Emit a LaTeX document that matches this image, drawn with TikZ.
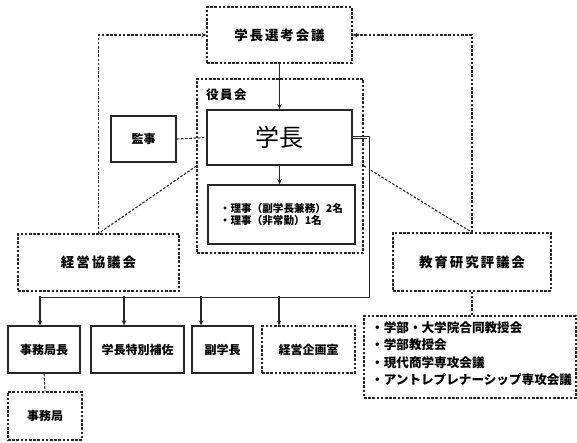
\documentclass[tikz,border=0pt]{standalone}
\usepackage{fontspec}
\setmainfont{Noto Sans CJK JP}
\usetikzlibrary{arrows.meta,calc}
\begin{document}
\begin{tikzpicture}[x=1pt,y=-1pt,
  ln/.style={line width=1.1pt, draw=black!85},
  dsh/.style={ln, dash pattern=on 2.6pt off 1.6pt},
  arr/.style={-{Stealth[length=5pt,width=4.5pt]}},
  sbox/.style n args={2}{draw=black!85, line width=1.4pt, minimum width=#1, minimum height=#2, inner sep=0pt},
  dbox/.style n args={2}{draw=black!85, line width=1.2pt, dash pattern=on 2.6pt off 1.6pt, minimum width=#1, minimum height=#2, inner sep=0pt},
  big/.style={font=\fontsize{13.5}{16}\selectfont\bfseries\addfontfeature{LetterSpace=14}},
  mid/.style={font=\fontsize{12}{15}\selectfont\bfseries},
  lst/.style={font=\fontsize{12.6}{17.5}\selectfont\bfseries, align=left},
]
\useasboundingbox (0,0) rectangle (577,442);
% nodes
\node[dbox={145pt}{56pt}, big] (sel) at (279.5,35) {学長選考会議};
\node[dbox={166pt}{174pt}] (yaku) at (280,166) {};
\node[anchor=west, font=\fontsize{12.5}{15}\selectfont\bfseries\addfontfeature{LetterSpace=12}, inner sep=0pt] (yakulabel) at (206,95) {役員会};
\node[sbox={145pt}{55pt}, font=\fontsize{24}{28}\selectfont, line width=1.7pt] (gaku) at (279.5,137.5) {学長};
\node[sbox={65pt}{46pt}, mid] (kanji) at (143.5,139) {監事};
\node[sbox={147pt}{59pt}, font=\fontsize{10.6}{12.5}\selectfont\bfseries, align=left] (riji) at (281.5,214.5) {・理事（副学長兼務）2名\\・理事（非常勤）1名};
\node[dbox={161pt}{57pt}, big] (keiei) at (98.5,262.5) {経営協議会};
\node[dbox={158pt}{58pt}, big] (kyoiku) at (472,262) {教育研究評議会};
\node[sbox={72pt}{47pt}, mid] (jcho) at (44,349.5) {事務局長};
\node[sbox={93pt}{47pt}, mid] (toku) at (137.5,349.5) {学長特別補佐};
\node[sbox={61pt}{47pt}, mid] (fuku) at (222.5,349.5) {副学長};
\node[dbox={93pt}{47pt}, mid] (kikaku) at (308.5,349.5) {経営企画室};
\node[dbox={74pt}{48pt}, mid] (jkyoku) at (45,416) {事務局};
\node[dbox={212pt}{82pt}] (list) at (470,357) {};
\node[lst, anchor=north west, inner sep=0pt] (listtext) at (371,321) {・学部・大学院合同教授会\\・学部教授会\\・現代商学専攻会議\\・アントレプレナーシップ専攻会議};
% connectors
\draw[dsh, arr] (keiei.north) |- (sel.west);
\draw[dsh, arr] (kyoiku.north) |- (sel.east);
\draw[dsh] (yaku.west) -- (keiei.north);
\draw[dsh] (gaku.south east -| yaku.east) -- (kyoiku.north);
\draw[dsh] (kanji.east) -- (gaku.west);
\draw[ln, arr] (sel.south) -- (gaku.north);
\draw[ln, arr] (gaku.south) -- (gaku.south |- riji.north);
\coordinate (corner) at (368,296);
\coordinate (b1) at (40,296);
\coordinate (b2) at (124,296);
\coordinate (b3) at (201,296);
\coordinate (b4) at (279,296);
\draw[ln, line width=0.7pt, double=white, double distance=1.6pt] (gaku.east) -| (corner) -- (b1);
\draw[ln, arr] (b1) -- (b1 |- jcho.north);
\draw[ln, arr] (b2) -- (b2 |- toku.north);
\draw[ln, arr] (b3) -- (b3 |- fuku.north);
\draw[ln, arr] (b4) -- (b4 |- kikaku.north);
\draw[dsh] (jcho.south) -- (jkyoku.north);
\draw[dsh] (kyoiku.south) -- (kyoiku.south |- list.north);
\end{tikzpicture}
\end{document}
